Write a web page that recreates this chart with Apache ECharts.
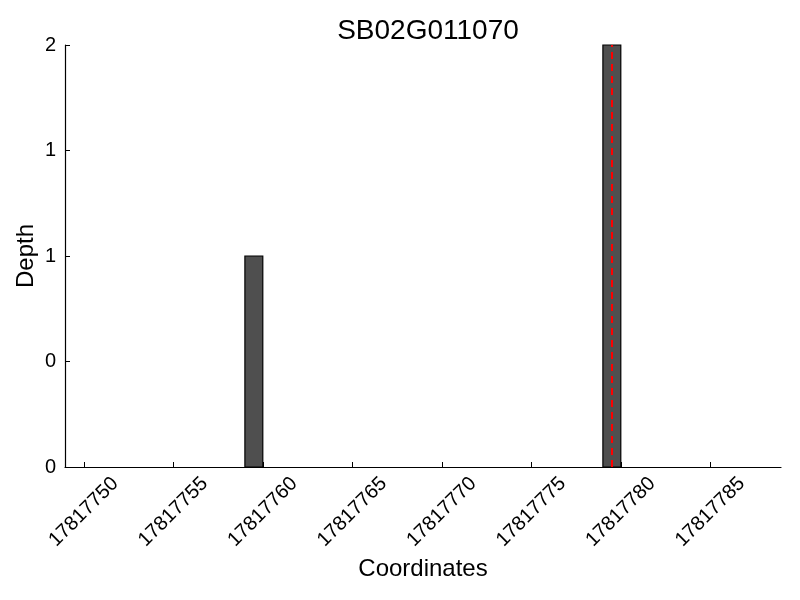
<!DOCTYPE html>
<html>
<head>
<meta charset="utf-8">
<script src="https://cdn.jsdelivr.net/npm/echarts@6/dist/echarts.min.js"></script>
<style>html,body{margin:0;padding:0;background:#fff}#c{width:800px;height:600px}</style>
</head>
<body>
<div id="c"></div>
<script>
const titleText = 'SB02G011070';
const binStarts = [17817759, 17817779];
const binEnds = [17817760, 17817780];
const depths = [1, 2];
const xTicks = [17817750, 17817755, 17817760, 17817765, 17817770, 17817775, 17817780, 17817785];
const yTicks = [0, 0.5, 1, 1.5, 2];
const markerPos = [17817779.5];

const FONT = 'Liberation Sans, Arial, sans-serif';
const chart = echarts.init(document.getElementById('c'), null, {renderer: 'canvas'});

const barData = binStarts.map((s, i) => [s, binEnds[i], depths[i]]);

chart.setOption({
  animation: false,
  backgroundColor: '#fff',
  title: {
    text: titleText, left: 423, top: 12, textAlign: 'center',
    textStyle: {fontFamily: FONT, fontSize: 28, fontWeight: 'normal', color: '#000'}
  },
  grid: {left: 65, right: 19, top: 45, bottom: 133, containLabel: false},
  xAxis: {
    type: 'value', min: 17817748.95, max: 17817788.95,
    name: 'Coordinates', nameLocation: 'middle', nameGap: 90, nameMoveOverlap: false,
    nameTextStyle: {fontFamily: FONT, fontSize: 24, color: '#000'},
    axisLine: {show: true, lineStyle: {color: '#000', width: 1.2}},
    axisTick: {show: true, inside: true, length: 5, customValues: xTicks, lineStyle: {color: '#000'}},
    axisLabel: {customValues: xTicks, rotate: 45, align: 'center', verticalAlign: 'middle',
      fontFamily: FONT, fontSize: 20, color: '#000', margin: 45,
      formatter: v => String(Math.round(v))},
    splitLine: {show: false}
  },
  yAxis: {
    type: 'value', min: 0, max: 2,
    name: 'Depth', nameLocation: 'middle', nameGap: 27, nameMoveOverlap: false,
    nameTextStyle: {fontFamily: FONT, fontSize: 24, color: '#000'},
    axisLine: {show: true, lineStyle: {color: '#000', width: 1.2}},
    axisTick: {show: true, inside: true, length: 5, customValues: yTicks, lineStyle: {color: '#000'}},
    axisLabel: {customValues: yTicks, fontFamily: FONT, fontSize: 20, color: '#000', margin: 9,
      formatter: v => String(Math.floor(v + 1e-9))},
    splitLine: {show: false}
  },
  series: [{
    type: 'custom',
    data: barData,
    encode: {x: [0, 1], y: 2},
    renderItem: function (params, api) {
      const p0 = api.coord([api.value(0), 0]);
      const p1 = api.coord([api.value(1), api.value(2)]);
      return {
        type: 'rect',
        shape: {x: p0[0], y: p1[1], width: p1[0] - p0[0], height: p0[1] - p1[1]},
        style: {fill: '#4f4f4f', stroke: '#000', lineWidth: 1.2}
      };
    },
    z: 2
  }, {
    type: 'line',
    data: [],
    z: 5,
    markLine: {
      symbol: 'none', silent: true, label: {show: false},
      lineStyle: {color: '#ff0000', type: [7, 5], width: 2},
      data: markerPos.map(v => ({xAxis: v}))
    }
  }]
});
</script>
</body>
</html>
